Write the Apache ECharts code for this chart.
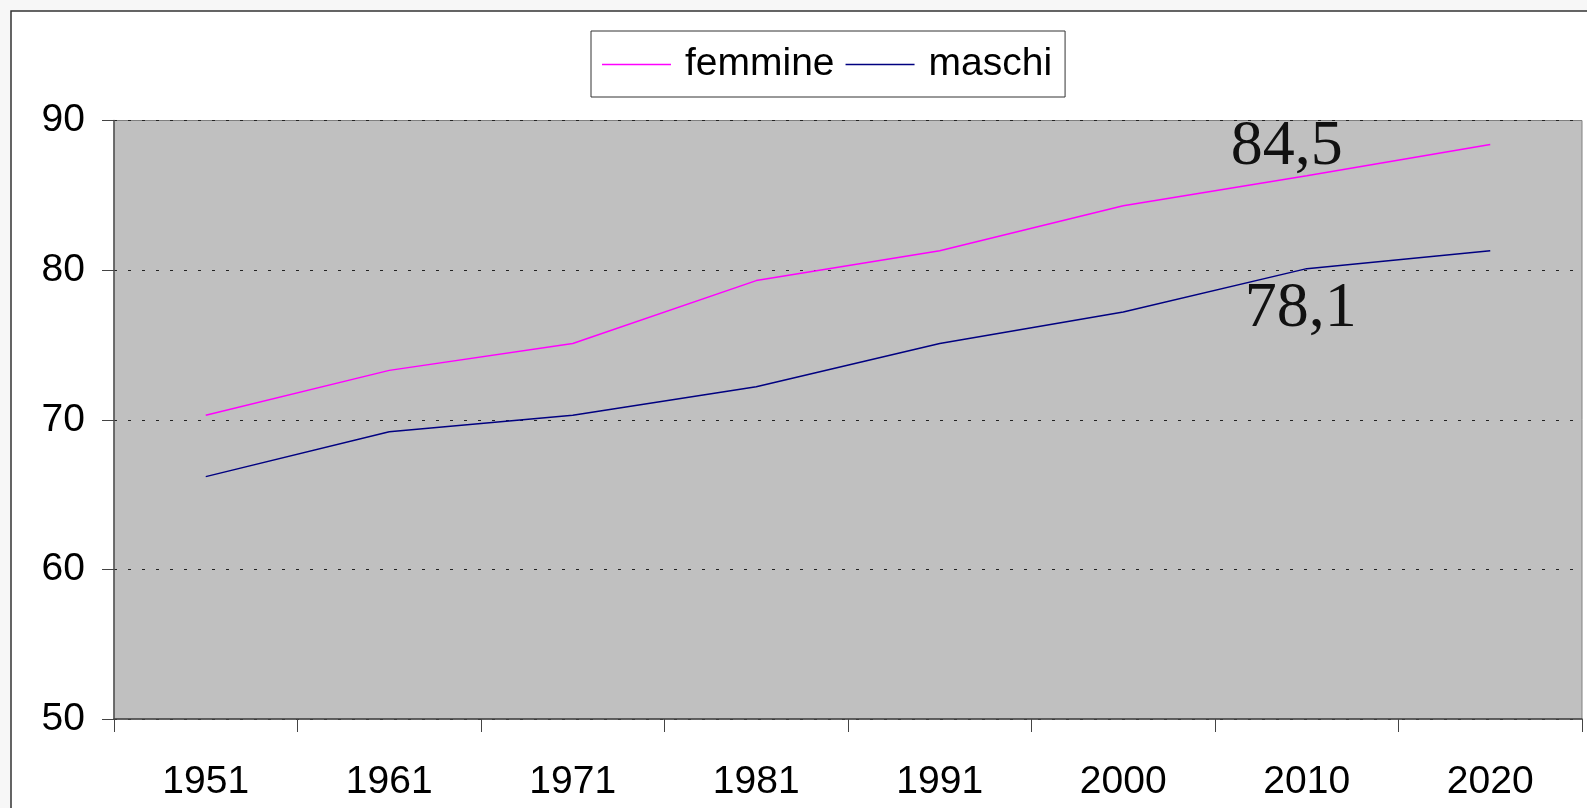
<!DOCTYPE html>
<html>
<head>
<meta charset="utf-8">
<script src="https://cdn.jsdelivr.net/npm/echarts@6/dist/echarts.min.js"></script>
<style>
    html, body { margin: 0; padding: 0; background: #f7f7f7; }
    #chart { width: 1587px; height: 808px; }
</style>
</head>
<body>
<div id="chart"></div>
<script>
// data
var years = ['1951', '1961', '1971', '1981', '1991', '2000', '2010', '2020'];
var femmine = [70.3, 73.3, 75.1, 79.3, 81.3, 84.3, 86.3, 88.4];
var maschi = [66.2, 69.2, 70.3, 72.2, 75.1, 77.2, 80.1, 81.3];
var seriesNames = ['femmine', 'maschi'];
// the two big numbers written next to the 2010 points
var notes = ['84,5', '78,1'];
var noteIndex = 6;

var chart;

function noteMark(text, values, offset) {
    return {
        symbol: 'circle',
        symbolSize: 0,
        silent: true,
        label: {
            show: true,
            position: 'inside',
            offset: offset,
            formatter: text,
            fontFamily: 'Liberation Serif',
            fontSize: 64,
            color: '#111'
        },
        data: [{ coord: [years[noteIndex], values[noteIndex]] }]
    };
}

function initChart() {
    chart = echarts.init(document.getElementById('chart'));
    var option = {
        animation: false,
        backgroundColor: '#f7f7f7',
        textStyle: { fontFamily: 'Liberation Sans' },
        graphic: [{
            type: 'rect',
            shape: { x: 11, y: 11, width: 1600, height: 820 },
            style: { fill: '#ffffff', stroke: '#333333', lineWidth: 1.5 },
            z: -10
        }],
        legend: {
            left: 591,
            top: 31,
            padding: [14, 13, 13, 11],
            itemGap: 11,
            itemWidth: 69,
            itemHeight: 1.5,
            icon: 'rect',
            borderColor: '#333',
            borderWidth: 1,
            backgroundColor: '#fff',
            textStyle: {
                fontSize: 39,
                color: '#000',
                padding: [0, 0, 0, 9]
            },
            data: seriesNames
        },
        grid: {
            left: 114,
            top: 120.5,
            right: 5,
            bottom: 89,
            show: true,
            backgroundColor: '#c0c0c0',
            borderColor: '#808080',
            borderWidth: 1
        },
        xAxis: {
            type: 'category',
            data: years,
            boundaryGap: true,
            axisLine: { lineStyle: { color: '#444', width: 1.5 } },
            axisTick: { show: true, length: 13, lineStyle: { color: '#444' } },
            axisLabel: { fontSize: 39, color: '#000', margin: 44 },
            splitLine: { show: false }
        },
        yAxis: {
            type: 'value',
            min: 50,
            max: 90,
            interval: 10,
            axisLine: { show: true, lineStyle: { color: '#555', width: 1.5 } },
            axisTick: { show: true, length: 12, lineStyle: { color: '#444' } },
            axisLabel: { fontSize: 39, color: '#000', margin: 29 },
            splitLine: {
                show: true,
                lineStyle: { color: '#222', type: [3, 11], width: 1 }
            }
        },
        series: [{
            name: seriesNames[0],
            type: 'line',
            symbol: 'none',
            data: femmine,
            lineStyle: { color: '#ff00ff', width: 1.5 },
            itemStyle: { color: '#ff00ff' },
            markPoint: noteMark(notes[0], femmine, [-20, -29])
        }, {
            name: seriesNames[1],
            type: 'line',
            symbol: 'none',
            data: maschi,
            lineStyle: { color: '#000080', width: 1.5 },
            itemStyle: { color: '#000080' },
            markPoint: noteMark(notes[1], maschi, [-6, 41])
        }]
    };
    chart.setOption(option);
}

initChart();
</script>
</body>
</html>
